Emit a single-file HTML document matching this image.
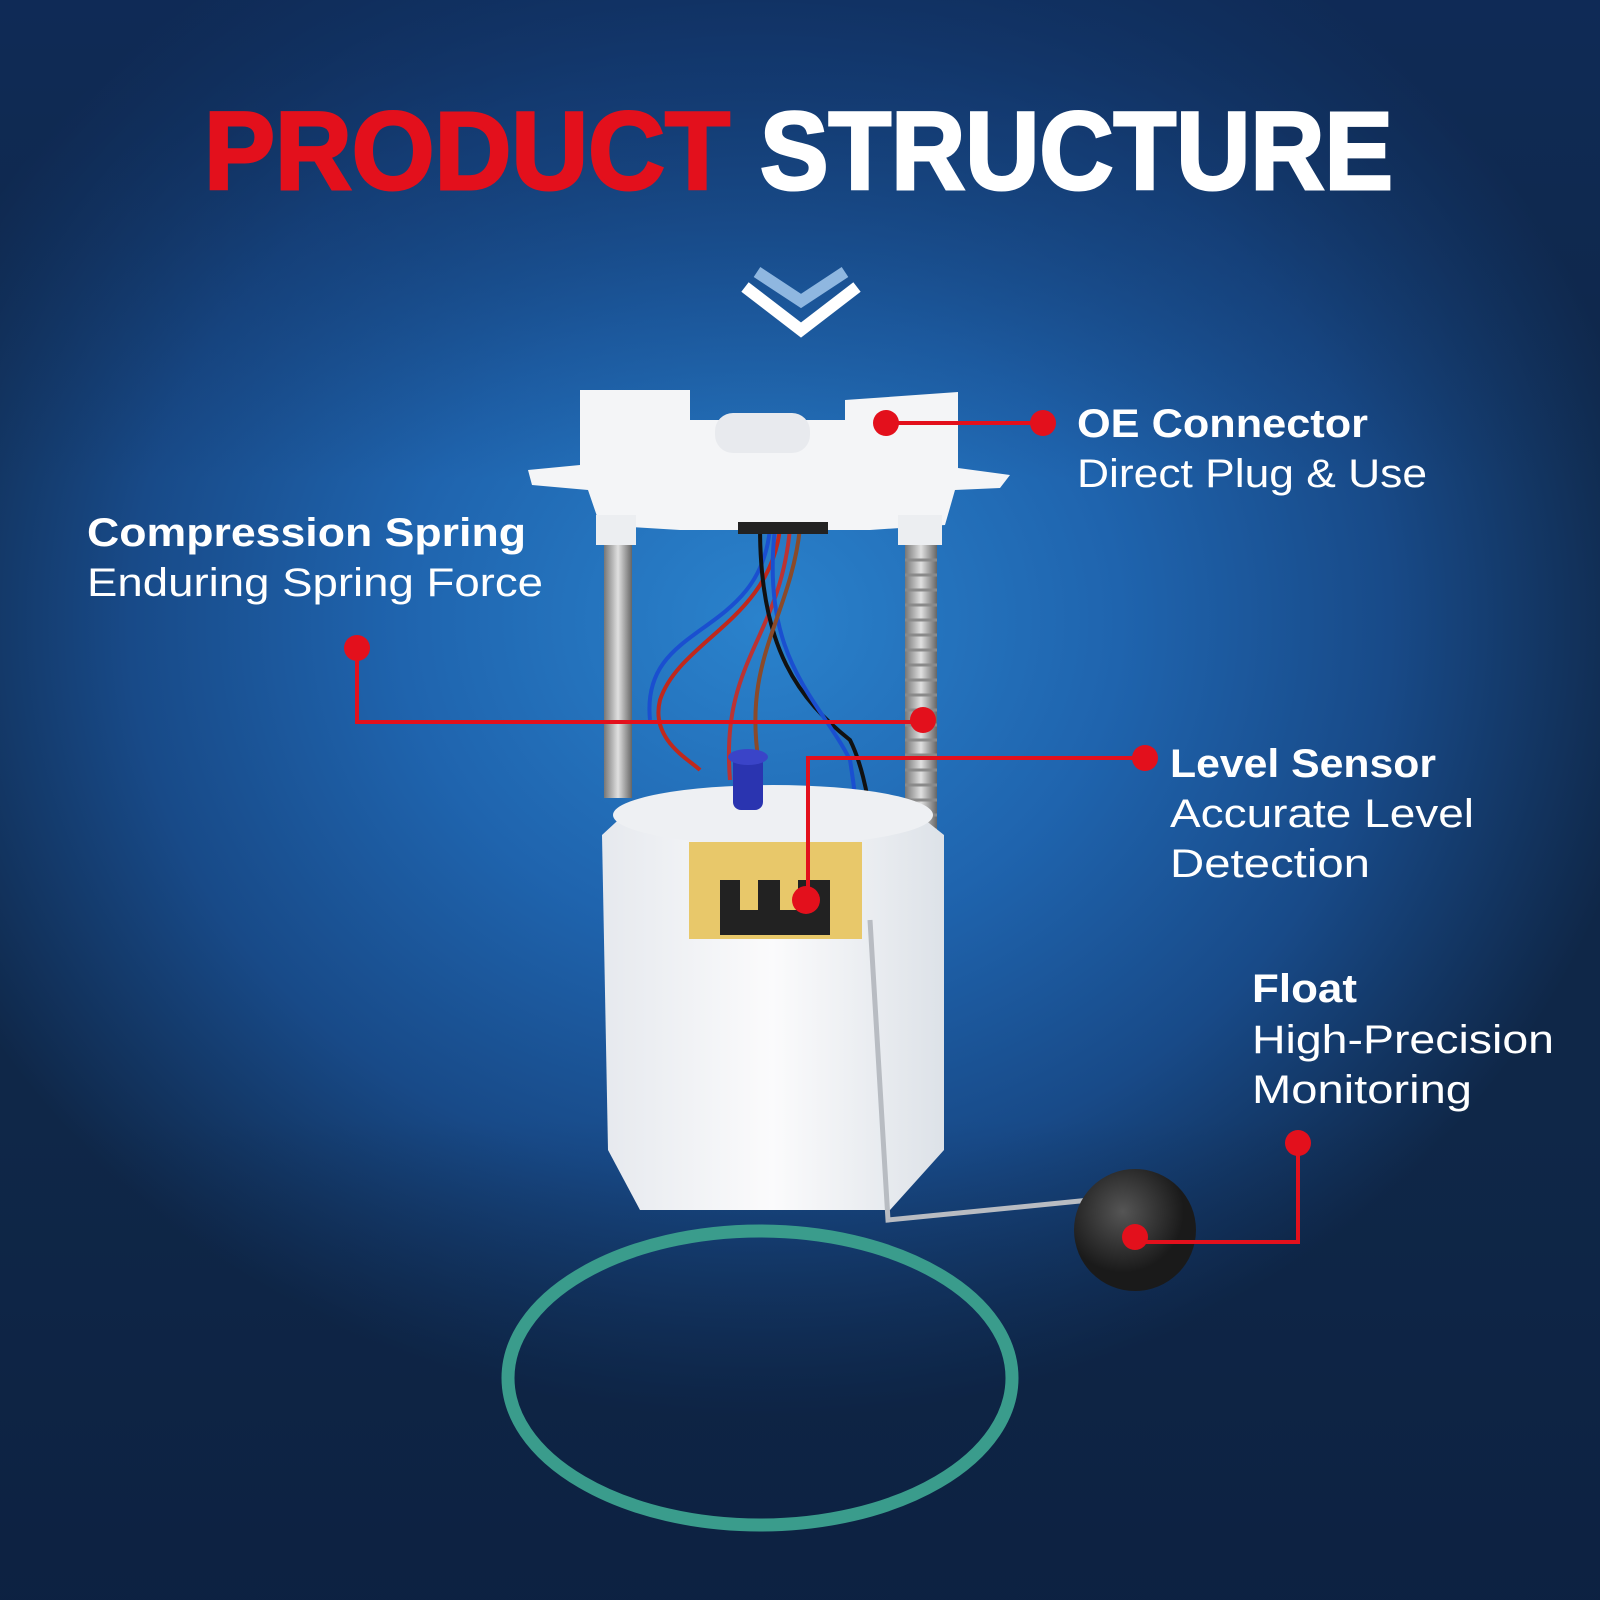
<!DOCTYPE html>
<html><head><meta charset="utf-8"><style>
html,body{margin:0;padding:0;width:1600px;height:1600px;overflow:hidden}
body{background:radial-gradient(ellipse 900px 800px at 760px 620px,#2a82cc 0%,#1f64ae 40%,#184a88 70%,#0f2748 100%)}
svg{position:absolute;left:0;top:0}
text{font-family:"Liberation Sans",sans-serif;fill:#fff}
</style></head><body>
<svg width="1600" height="1600" viewBox="0 0 1600 1600">
<defs>
<linearGradient id="bg2" x1="0" y1="0" x2="0" y2="1">
<stop offset="0" stop-color="#0f2c5c" stop-opacity="0.7"/><stop offset="0.3" stop-color="#0f2c5c" stop-opacity="0"/><stop offset="0.7" stop-color="#0c2040" stop-opacity="0"/><stop offset="1" stop-color="#0c2040" stop-opacity="0.8"/>
</linearGradient>
<linearGradient id="body" x1="0" x2="1"><stop offset="0" stop-color="#e6e9ee"/><stop offset="0.5" stop-color="#fbfbfc"/><stop offset="1" stop-color="#dde2e8"/></linearGradient>
<linearGradient id="rod" x1="0" x2="1"><stop offset="0" stop-color="#777"/><stop offset="0.5" stop-color="#e0e0e0"/><stop offset="1" stop-color="#666"/></linearGradient>
<radialGradient id="ball" cx="0.4" cy="0.35"><stop offset="0" stop-color="#555"/><stop offset="1" stop-color="#1a1a1a"/></radialGradient>
</defs>
<rect width="1600" height="1600" fill="url(#bg2)"/>
<text x="204" y="189" font-size="110" font-weight="bold" style="fill:#e3101c;stroke:#e3101c;stroke-width:3" textLength="526" lengthAdjust="spacingAndGlyphs">PRODUCT</text>
<text x="760" y="189" font-size="110" font-weight="bold" style="stroke:#fff;stroke-width:3" textLength="633" lengthAdjust="spacingAndGlyphs">STRUCTURE</text>
<polyline points="757,272 801,301 845,272" fill="none" stroke="#8fb7e0" stroke-width="12"/>
<polyline points="745,287 801,330 857,287" fill="none" stroke="#fff" stroke-width="12"/>

<ellipse cx="760" cy="1378" rx="252" ry="147" fill="none" stroke="#3a9c8c" stroke-width="13"/>
<rect x="604" y="528" width="28" height="270" fill="url(#rod)"/>
<rect x="905" y="528" width="32" height="320" fill="url(#rod)"/>
<g stroke="#8a8a8a" stroke-width="3">
<path d="M905 560h32M905 575h32M905 590h32M905 605h32M905 620h32M905 635h32M905 650h32M905 665h32M905 680h32M905 695h32M905 710h32M905 725h32M905 740h32M905 755h32M905 770h32M905 785h32M905 800h32M905 815h32M905 830h32"/>
</g>
<g fill="none" stroke-width="4">
<path d="M780 528 C770 620 680 640 660 700 C650 740 690 760 700 770" stroke="#c0281c"/>
<path d="M790 528 C780 640 720 660 730 780" stroke="#b33"/>
<path d="M770 528 C760 640 640 620 650 720" stroke="#1a4fd0"/>
<path d="M760 528 C760 650 800 700 850 740 C870 780 880 860 870 920" stroke="#111"/>
<path d="M775 528 C760 660 820 700 850 760 C860 820 860 870 860 910" stroke="#1a4fd0"/>
<path d="M800 528 C790 620 740 660 760 770" stroke="#8a4a2a"/>
</g>
<path d="M602 835 L640 800 L900 800 L944 835 L944 1150 L890 1210 L640 1210 L608 1150 Z" fill="url(#body)"/>
<ellipse cx="773" cy="815" rx="160" ry="30" fill="#eef0f3"/>
<rect x="689" y="842" width="173" height="97" fill="#e8c86a"/>
<rect x="720" y="880" width="110" height="55" fill="#222"/>
<rect x="740" y="880" width="18" height="30" fill="#e8c86a"/><rect x="780" y="880" width="18" height="30" fill="#e8c86a"/>
<rect x="733" y="755" width="30" height="55" rx="8" fill="#2a34b0"/>
<ellipse cx="748" cy="757" rx="20" ry="8" fill="#3a44c8"/>
<path d="M870 920 L888 1220 L1090 1200" fill="none" stroke="#b8bcc2" stroke-width="5"/>
<circle cx="1135" cy="1230" r="61" fill="url(#ball)"/>
<path d="M580 390 L690 390 L690 420 L845 420 L845 400 L958 392 L958 468 L1010 475 L1000 488 L955 490 L945 525 L870 530 L680 530 L600 525 L588 490 L532 485 L528 470 L580 465 Z" fill="#f4f5f7"/>
<rect x="715" y="413" width="95" height="40" rx="18" fill="#e8eaee"/>
<rect x="738" y="522" width="90" height="12" fill="#222"/>
<rect x="596" y="515" width="40" height="30" fill="#eceef1"/>
<rect x="898" y="515" width="44" height="30" fill="#eceef1"/>

<g stroke="#e3101c" stroke-width="4" fill="none">
<path d="M886 423 H1043"/>
<path d="M357 648 V722 H923"/>
<path d="M1145 758 H808 V900"/>
<path d="M1298 1143 V1242 H1135"/>
</g>
<g fill="#e3101c">
<circle cx="886" cy="423" r="13"/><circle cx="1043" cy="423" r="13"/>
<circle cx="357" cy="648" r="13"/><circle cx="923" cy="720" r="13"/>
<circle cx="1145" cy="758" r="13"/><circle cx="806" cy="900" r="14"/>
<circle cx="1298" cy="1143" r="13"/><circle cx="1135" cy="1237" r="13"/>
</g>

<text x="1077" y="437" font-size="40" font-weight="bold" textLength="291" lengthAdjust="spacingAndGlyphs">OE Connector</text>
<text x="1077" y="487" font-size="40" textLength="350" lengthAdjust="spacingAndGlyphs">Direct Plug &amp; Use</text>
<text x="87" y="546" font-size="40" font-weight="bold" textLength="439" lengthAdjust="spacingAndGlyphs">Compression Spring</text>
<text x="87" y="596" font-size="40" textLength="456" lengthAdjust="spacingAndGlyphs">Enduring Spring Force</text>
<text x="1170" y="777" font-size="40" font-weight="bold" textLength="266" lengthAdjust="spacingAndGlyphs">Level Sensor</text>
<text x="1170" y="827" font-size="40" textLength="304" lengthAdjust="spacingAndGlyphs">Accurate Level</text>
<text x="1170" y="877" font-size="40" textLength="200" lengthAdjust="spacingAndGlyphs">Detection</text>
<text x="1252" y="1002" font-size="40" font-weight="bold" textLength="105" lengthAdjust="spacingAndGlyphs">Float</text>
<text x="1252" y="1053" font-size="40" textLength="302" lengthAdjust="spacingAndGlyphs">High-Precision</text>
<text x="1252" y="1103" font-size="40" textLength="220" lengthAdjust="spacingAndGlyphs">Monitoring</text>
</svg>
</body></html>
